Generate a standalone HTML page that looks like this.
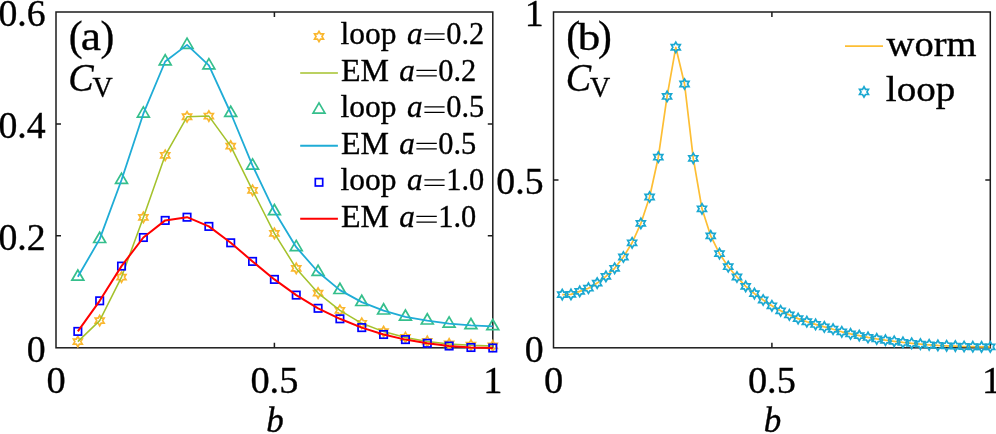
<!DOCTYPE html>
<html><head><meta charset="utf-8"><title>Chart</title>
<style>
html,body{margin:0;padding:0;background:#fff;}
body{width:996px;height:434px;overflow:hidden;font-family:"Liberation Serif",serif;}
svg{display:block;}
</style></head><body>
<svg width="996" height="434" viewBox="0 0 996 434">
<rect width="996" height="434" fill="#fff"/>
<rect x="56.0" y="12.0" width="436.80" height="335.80" fill="none" stroke="#1c1c1c" stroke-width="1.5"/>
<path d="M274.40,347.8 v-5.0 M274.40,12.0 v5.0" stroke="#1c1c1c" stroke-width="1.5"/>
<path d="M56.0,235.87 h5.0 M492.8,235.87 h-5.0" stroke="#1c1c1c" stroke-width="1.5"/>
<path d="M56.0,123.93 h5.0 M492.8,123.93 h-5.0" stroke="#1c1c1c" stroke-width="1.5"/>
<path d="M77.84,336.45 L79.33,339.03 L82.30,339.03 L80.81,341.60 L82.30,344.18 L79.33,344.18 L77.84,346.75 L76.35,344.18 L73.38,344.18 L74.87,341.60 L73.38,339.03 L76.35,339.03Z" fill="none" stroke="#FAB72E" stroke-width="1.7" stroke-linejoin="miter"/>
<path d="M99.68,315.45 L101.17,318.03 L104.14,318.03 L102.65,320.60 L104.14,323.18 L101.17,323.18 L99.68,325.75 L98.19,323.18 L95.22,323.18 L96.71,320.60 L95.22,318.03 L98.19,318.03Z" fill="none" stroke="#FAB72E" stroke-width="1.7" stroke-linejoin="miter"/>
<path d="M121.52,271.95 L123.01,274.53 L125.98,274.53 L124.49,277.10 L125.98,279.68 L123.01,279.68 L121.52,282.25 L120.03,279.68 L117.06,279.68 L118.55,277.10 L117.06,274.53 L120.03,274.53Z" fill="none" stroke="#FAB72E" stroke-width="1.7" stroke-linejoin="miter"/>
<path d="M143.36,212.25 L144.85,214.83 L147.82,214.83 L146.33,217.40 L147.82,219.97 L144.85,219.97 L143.36,222.55 L141.87,219.97 L138.90,219.97 L140.39,217.40 L138.90,214.83 L141.87,214.83Z" fill="none" stroke="#FAB72E" stroke-width="1.7" stroke-linejoin="miter"/>
<path d="M165.20,150.15 L166.69,152.73 L169.66,152.73 L168.17,155.30 L169.66,157.88 L166.69,157.88 L165.20,160.45 L163.71,157.88 L160.74,157.88 L162.23,155.30 L160.74,152.73 L163.71,152.73Z" fill="none" stroke="#FAB72E" stroke-width="1.7" stroke-linejoin="miter"/>
<path d="M187.04,111.65 L188.53,114.22 L191.50,114.22 L190.01,116.80 L191.50,119.38 L188.53,119.38 L187.04,121.95 L185.55,119.38 L182.58,119.38 L184.07,116.80 L182.58,114.22 L185.55,114.22Z" fill="none" stroke="#FAB72E" stroke-width="1.7" stroke-linejoin="miter"/>
<path d="M208.88,110.95 L210.37,113.52 L213.34,113.52 L211.85,116.10 L213.34,118.67 L210.37,118.67 L208.88,121.25 L207.39,118.67 L204.42,118.67 L205.91,116.10 L204.42,113.52 L207.39,113.52Z" fill="none" stroke="#FAB72E" stroke-width="1.7" stroke-linejoin="miter"/>
<path d="M230.72,140.95 L232.21,143.53 L235.18,143.53 L233.69,146.10 L235.18,148.67 L232.21,148.67 L230.72,151.25 L229.23,148.67 L226.26,148.67 L227.75,146.10 L226.26,143.53 L229.23,143.53Z" fill="none" stroke="#FAB72E" stroke-width="1.7" stroke-linejoin="miter"/>
<path d="M252.56,185.15 L254.05,187.73 L257.02,187.73 L255.53,190.30 L257.02,192.88 L254.05,192.88 L252.56,195.45 L251.07,192.88 L248.10,192.88 L249.59,190.30 L248.10,187.73 L251.07,187.73Z" fill="none" stroke="#FAB72E" stroke-width="1.7" stroke-linejoin="miter"/>
<path d="M274.40,228.25 L275.89,230.83 L278.86,230.83 L277.37,233.40 L278.86,235.97 L275.89,235.97 L274.40,238.55 L272.91,235.97 L269.94,235.97 L271.43,233.40 L269.94,230.83 L272.91,230.83Z" fill="none" stroke="#FAB72E" stroke-width="1.7" stroke-linejoin="miter"/>
<path d="M296.24,263.25 L297.73,265.82 L300.70,265.82 L299.21,268.40 L300.70,270.97 L297.73,270.97 L296.24,273.55 L294.75,270.97 L291.78,270.97 L293.27,268.40 L291.78,265.82 L294.75,265.82Z" fill="none" stroke="#FAB72E" stroke-width="1.7" stroke-linejoin="miter"/>
<path d="M318.08,287.95 L319.57,290.53 L322.54,290.53 L321.05,293.10 L322.54,295.68 L319.57,295.68 L318.08,298.25 L316.59,295.68 L313.62,295.68 L315.11,293.10 L313.62,290.53 L316.59,290.53Z" fill="none" stroke="#FAB72E" stroke-width="1.7" stroke-linejoin="miter"/>
<path d="M339.92,305.15 L341.41,307.73 L344.38,307.73 L342.89,310.30 L344.38,312.88 L341.41,312.88 L339.92,315.45 L338.43,312.88 L335.46,312.88 L336.95,310.30 L335.46,307.73 L338.43,307.73Z" fill="none" stroke="#FAB72E" stroke-width="1.7" stroke-linejoin="miter"/>
<path d="M361.76,318.15 L363.25,320.73 L366.22,320.73 L364.73,323.30 L366.22,325.88 L363.25,325.88 L361.76,328.45 L360.27,325.88 L357.30,325.88 L358.79,323.30 L357.30,320.73 L360.27,320.73Z" fill="none" stroke="#FAB72E" stroke-width="1.7" stroke-linejoin="miter"/>
<path d="M383.60,326.45 L385.09,329.03 L388.06,329.03 L386.57,331.60 L388.06,334.18 L385.09,334.18 L383.60,336.75 L382.11,334.18 L379.14,334.18 L380.63,331.60 L379.14,329.03 L382.11,329.03Z" fill="none" stroke="#FAB72E" stroke-width="1.7" stroke-linejoin="miter"/>
<path d="M405.44,332.35 L406.93,334.93 L409.90,334.93 L408.41,337.50 L409.90,340.07 L406.93,340.07 L405.44,342.65 L403.95,340.07 L400.98,340.07 L402.47,337.50 L400.98,334.93 L403.95,334.93Z" fill="none" stroke="#FAB72E" stroke-width="1.7" stroke-linejoin="miter"/>
<path d="M427.28,336.25 L428.77,338.82 L431.74,338.82 L430.25,341.40 L431.74,343.97 L428.77,343.97 L427.28,346.55 L425.79,343.97 L422.82,343.97 L424.31,341.40 L422.82,338.82 L425.79,338.82Z" fill="none" stroke="#FAB72E" stroke-width="1.7" stroke-linejoin="miter"/>
<path d="M449.12,338.75 L450.61,341.32 L453.58,341.32 L452.09,343.90 L453.58,346.47 L450.61,346.47 L449.12,349.05 L447.63,346.47 L444.66,346.47 L446.15,343.90 L444.66,341.32 L447.63,341.32Z" fill="none" stroke="#FAB72E" stroke-width="1.7" stroke-linejoin="miter"/>
<path d="M470.96,340.05 L472.45,342.62 L475.42,342.62 L473.93,345.20 L475.42,347.77 L472.45,347.77 L470.96,350.35 L469.47,347.77 L466.50,347.77 L467.99,345.20 L466.50,342.62 L469.47,342.62Z" fill="none" stroke="#FAB72E" stroke-width="1.7" stroke-linejoin="miter"/>
<path d="M492.80,340.75 L494.29,343.32 L497.26,343.32 L495.77,345.90 L497.26,348.47 L494.29,348.47 L492.80,351.05 L491.31,348.47 L488.34,348.47 L489.83,345.90 L488.34,343.32 L491.31,343.32Z" fill="none" stroke="#FAB72E" stroke-width="1.7" stroke-linejoin="miter"/>
<polyline points="77.84,341.60 99.68,320.60 121.52,277.10 143.36,217.40 165.20,155.30 187.04,116.80 208.88,116.10 230.72,146.10 252.56,190.30 274.40,233.40 296.24,268.40 318.08,293.10 339.92,310.30 361.76,323.30 383.60,331.60 405.44,337.50 427.28,341.40 449.12,343.90 470.96,345.20 492.80,345.90" fill="none" stroke="#A4C22C" stroke-width="1.55" stroke-linejoin="round"/>
<path d="M77.84,270.00 L71.89,280.20 L83.79,280.20Z" fill="none" stroke="#35BF8C" stroke-width="1.7" stroke-linejoin="miter"/>
<path d="M99.68,232.30 L93.73,242.50 L105.63,242.50Z" fill="none" stroke="#35BF8C" stroke-width="1.7" stroke-linejoin="miter"/>
<path d="M121.52,173.20 L115.57,183.40 L127.47,183.40Z" fill="none" stroke="#35BF8C" stroke-width="1.7" stroke-linejoin="miter"/>
<path d="M143.36,106.90 L137.41,117.10 L149.31,117.10Z" fill="none" stroke="#35BF8C" stroke-width="1.7" stroke-linejoin="miter"/>
<path d="M165.20,54.70 L159.25,64.90 L171.15,64.90Z" fill="none" stroke="#35BF8C" stroke-width="1.7" stroke-linejoin="miter"/>
<path d="M187.04,38.10 L181.09,48.30 L192.99,48.30Z" fill="none" stroke="#35BF8C" stroke-width="1.7" stroke-linejoin="miter"/>
<path d="M208.88,58.60 L202.93,68.80 L214.83,68.80Z" fill="none" stroke="#35BF8C" stroke-width="1.7" stroke-linejoin="miter"/>
<path d="M230.72,106.20 L224.77,116.40 L236.67,116.40Z" fill="none" stroke="#35BF8C" stroke-width="1.7" stroke-linejoin="miter"/>
<path d="M252.56,158.90 L246.61,169.10 L258.51,169.10Z" fill="none" stroke="#35BF8C" stroke-width="1.7" stroke-linejoin="miter"/>
<path d="M274.40,204.50 L268.45,214.70 L280.35,214.70Z" fill="none" stroke="#35BF8C" stroke-width="1.7" stroke-linejoin="miter"/>
<path d="M296.24,240.40 L290.29,250.60 L302.19,250.60Z" fill="none" stroke="#35BF8C" stroke-width="1.7" stroke-linejoin="miter"/>
<path d="M318.08,265.20 L312.13,275.40 L324.03,275.40Z" fill="none" stroke="#35BF8C" stroke-width="1.7" stroke-linejoin="miter"/>
<path d="M339.92,283.30 L333.97,293.50 L345.87,293.50Z" fill="none" stroke="#35BF8C" stroke-width="1.7" stroke-linejoin="miter"/>
<path d="M361.76,295.30 L355.81,305.50 L367.71,305.50Z" fill="none" stroke="#35BF8C" stroke-width="1.7" stroke-linejoin="miter"/>
<path d="M383.60,303.80 L377.65,314.00 L389.55,314.00Z" fill="none" stroke="#35BF8C" stroke-width="1.7" stroke-linejoin="miter"/>
<path d="M405.44,310.00 L399.49,320.20 L411.39,320.20Z" fill="none" stroke="#35BF8C" stroke-width="1.7" stroke-linejoin="miter"/>
<path d="M427.28,313.80 L421.33,324.00 L433.23,324.00Z" fill="none" stroke="#35BF8C" stroke-width="1.7" stroke-linejoin="miter"/>
<path d="M449.12,316.90 L443.17,327.10 L455.07,327.10Z" fill="none" stroke="#35BF8C" stroke-width="1.7" stroke-linejoin="miter"/>
<path d="M470.96,318.50 L465.01,328.70 L476.91,328.70Z" fill="none" stroke="#35BF8C" stroke-width="1.7" stroke-linejoin="miter"/>
<path d="M492.80,319.50 L486.85,329.70 L498.75,329.70Z" fill="none" stroke="#35BF8C" stroke-width="1.7" stroke-linejoin="miter"/>
<polyline points="77.84,276.80 99.68,239.10 121.52,180.00 143.36,113.70 165.20,61.50 187.04,44.90 208.88,65.40 230.72,113.00 252.56,165.70 274.40,211.30 296.24,247.20 318.08,272.00 339.92,290.10 361.76,302.10 383.60,310.60 405.44,316.80 427.28,320.60 449.12,323.70 470.96,325.30 492.80,326.30" fill="none" stroke="#1FACD6" stroke-width="1.8" stroke-linejoin="round"/>
<rect x="74.14" y="327.70" width="7.4" height="7.4" fill="none" stroke="#0000FF" stroke-width="1.7"/>
<rect x="95.98" y="297.10" width="7.4" height="7.4" fill="none" stroke="#0000FF" stroke-width="1.7"/>
<rect x="117.82" y="262.40" width="7.4" height="7.4" fill="none" stroke="#0000FF" stroke-width="1.7"/>
<rect x="139.66" y="233.80" width="7.4" height="7.4" fill="none" stroke="#0000FF" stroke-width="1.7"/>
<rect x="161.50" y="216.70" width="7.4" height="7.4" fill="none" stroke="#0000FF" stroke-width="1.7"/>
<rect x="183.34" y="213.50" width="7.4" height="7.4" fill="none" stroke="#0000FF" stroke-width="1.7"/>
<rect x="205.18" y="222.70" width="7.4" height="7.4" fill="none" stroke="#0000FF" stroke-width="1.7"/>
<rect x="227.02" y="239.10" width="7.4" height="7.4" fill="none" stroke="#0000FF" stroke-width="1.7"/>
<rect x="248.86" y="257.70" width="7.4" height="7.4" fill="none" stroke="#0000FF" stroke-width="1.7"/>
<rect x="270.70" y="275.70" width="7.4" height="7.4" fill="none" stroke="#0000FF" stroke-width="1.7"/>
<rect x="292.54" y="291.40" width="7.4" height="7.4" fill="none" stroke="#0000FF" stroke-width="1.7"/>
<rect x="314.38" y="304.60" width="7.4" height="7.4" fill="none" stroke="#0000FF" stroke-width="1.7"/>
<rect x="336.22" y="315.10" width="7.4" height="7.4" fill="none" stroke="#0000FF" stroke-width="1.7"/>
<rect x="358.06" y="323.90" width="7.4" height="7.4" fill="none" stroke="#0000FF" stroke-width="1.7"/>
<rect x="379.90" y="330.80" width="7.4" height="7.4" fill="none" stroke="#0000FF" stroke-width="1.7"/>
<rect x="401.74" y="335.90" width="7.4" height="7.4" fill="none" stroke="#0000FF" stroke-width="1.7"/>
<rect x="423.58" y="339.60" width="7.4" height="7.4" fill="none" stroke="#0000FF" stroke-width="1.7"/>
<rect x="445.42" y="342.30" width="7.4" height="7.4" fill="none" stroke="#0000FF" stroke-width="1.7"/>
<rect x="467.26" y="343.80" width="7.4" height="7.4" fill="none" stroke="#0000FF" stroke-width="1.7"/>
<rect x="489.10" y="344.30" width="7.4" height="7.4" fill="none" stroke="#0000FF" stroke-width="1.7"/>
<polyline points="77.84,331.40 99.68,300.80 121.52,266.10 143.36,237.50 165.20,220.40 187.04,217.20 208.88,226.40 230.72,242.80 252.56,261.40 274.40,279.40 296.24,295.10 318.08,308.30 339.92,318.80 361.76,327.60 383.60,334.50 405.44,339.60 427.28,343.30 449.12,346.00 470.96,347.50 492.80,348.00" fill="none" stroke="#FF0000" stroke-width="2.0" stroke-linejoin="round"/>
<g font-family="'Liberation Serif', serif" fill="#000" stroke="#000" stroke-width="0.35" style="filter:grayscale(1)">
<text x="45.70" y="362.00" font-size="37.8" text-anchor="end">0</text>
<text x="45.70" y="250.07" font-size="37.8" text-anchor="end">0.2</text>
<text x="45.70" y="138.13" font-size="37.8" text-anchor="end">0.4</text>
<text x="45.70" y="26.20" font-size="37.8" text-anchor="end">0.6</text>
<text x="56.00" y="392.50" font-size="38.4" text-anchor="middle">0</text>
<text x="274.40" y="392.50" font-size="38.4" text-anchor="middle">0.5</text>
<text x="492.80" y="392.50" font-size="38.4" text-anchor="middle">1</text>
<text x="275.00" y="432.00" font-size="35" text-anchor="middle" font-style="italic">b</text>
<text x="68.70" y="50.30" font-size="41.5" text-anchor="start">(</text>
<text x="80.70" y="49.60" font-size="40" text-anchor="start" textLength="20.3" lengthAdjust="spacingAndGlyphs">a</text>
<text x="100.60" y="50.30" font-size="41.5" text-anchor="start">)</text>
<text x="68.30" y="91.40" font-size="40" text-anchor="start" font-style="italic" textLength="25.4" lengthAdjust="spacingAndGlyphs">C</text>
<text x="92.40" y="96.90" font-size="29" text-anchor="start" textLength="20.2" lengthAdjust="spacingAndGlyphs">V</text>
<text x="340.60" y="44.00" font-size="31.5" text-anchor="start" textLength="56" lengthAdjust="spacingAndGlyphs">loop</text>
<text x="407.00" y="44.00" font-size="31.5" text-anchor="start" font-style="italic" textLength="15.6" lengthAdjust="spacingAndGlyphs">a</text>
<path d="M424.40,33.80 H444.60 M424.40,39.40 H444.60" stroke="#000" stroke-width="1.25" fill="none"/>
<text x="446.20" y="44.00" font-size="31" text-anchor="start" textLength="38" lengthAdjust="spacingAndGlyphs">0.2</text>
<text x="340.90" y="80.52" font-size="31" text-anchor="start" textLength="48" lengthAdjust="spacingAndGlyphs">EM</text>
<text x="399.20" y="80.52" font-size="31.5" text-anchor="start" font-style="italic" textLength="15.6" lengthAdjust="spacingAndGlyphs">a</text>
<path d="M416.40,70.32 H436.80 M416.40,75.92 H436.80" stroke="#000" stroke-width="1.25" fill="none"/>
<text x="438.20" y="80.52" font-size="31" text-anchor="start" textLength="38" lengthAdjust="spacingAndGlyphs">0.2</text>
<text x="340.60" y="117.04" font-size="31.5" text-anchor="start" textLength="56" lengthAdjust="spacingAndGlyphs">loop</text>
<text x="407.00" y="117.04" font-size="31.5" text-anchor="start" font-style="italic" textLength="15.6" lengthAdjust="spacingAndGlyphs">a</text>
<path d="M424.40,106.84 H444.60 M424.40,112.44 H444.60" stroke="#000" stroke-width="1.25" fill="none"/>
<text x="446.20" y="117.04" font-size="31" text-anchor="start" textLength="38" lengthAdjust="spacingAndGlyphs">0.5</text>
<text x="340.90" y="153.56" font-size="31" text-anchor="start" textLength="48" lengthAdjust="spacingAndGlyphs">EM</text>
<text x="399.20" y="153.56" font-size="31.5" text-anchor="start" font-style="italic" textLength="15.6" lengthAdjust="spacingAndGlyphs">a</text>
<path d="M416.40,143.36 H436.80 M416.40,148.96 H436.80" stroke="#000" stroke-width="1.25" fill="none"/>
<text x="438.20" y="153.56" font-size="31" text-anchor="start" textLength="38" lengthAdjust="spacingAndGlyphs">0.5</text>
<text x="340.60" y="190.08" font-size="31.5" text-anchor="start" textLength="56" lengthAdjust="spacingAndGlyphs">loop</text>
<text x="407.00" y="190.08" font-size="31.5" text-anchor="start" font-style="italic" textLength="15.6" lengthAdjust="spacingAndGlyphs">a</text>
<path d="M424.40,179.88 H444.60 M424.40,185.48 H444.60" stroke="#000" stroke-width="1.25" fill="none"/>
<text x="446.20" y="190.08" font-size="31" text-anchor="start" textLength="38" lengthAdjust="spacingAndGlyphs">1.0</text>
<text x="340.90" y="226.60" font-size="31" text-anchor="start" textLength="48" lengthAdjust="spacingAndGlyphs">EM</text>
<text x="399.20" y="226.60" font-size="31.5" text-anchor="start" font-style="italic" textLength="15.6" lengthAdjust="spacingAndGlyphs">a</text>
<path d="M416.40,216.40 H436.80 M416.40,222.00 H436.80" stroke="#000" stroke-width="1.25" fill="none"/>
<text x="438.20" y="226.60" font-size="31" text-anchor="start" textLength="38" lengthAdjust="spacingAndGlyphs">1.0</text>
<text x="543.60" y="362.00" font-size="37.8" text-anchor="end">0</text>
<text x="543.60" y="194.10" font-size="37.8" text-anchor="end">0.5</text>
<text x="543.60" y="26.20" font-size="37.8" text-anchor="end">1</text>
<text x="553.50" y="392.50" font-size="38.4" text-anchor="middle">0</text>
<text x="771.90" y="392.50" font-size="38.4" text-anchor="middle">0.5</text>
<text x="991.70" y="392.50" font-size="38.4" text-anchor="middle">1</text>
<text x="772.50" y="432.00" font-size="35" text-anchor="middle" font-style="italic">b</text>
<text x="566.20" y="50.30" font-size="41.5" text-anchor="start">(</text>
<text x="577.70" y="50.30" font-size="37.7" text-anchor="start" textLength="22.5" lengthAdjust="spacingAndGlyphs">b</text>
<text x="598.10" y="50.30" font-size="41.5" text-anchor="start">)</text>
<text x="565.80" y="91.40" font-size="40" text-anchor="start" font-style="italic" textLength="25.4" lengthAdjust="spacingAndGlyphs">C</text>
<text x="589.90" y="96.90" font-size="29" text-anchor="start" textLength="20.2" lengthAdjust="spacingAndGlyphs">V</text>
<text x="886.60" y="55.70" font-size="35.5" text-anchor="start" textLength="90" lengthAdjust="spacingAndGlyphs">worm</text>
<text x="885.80" y="100.90" font-size="36.5" text-anchor="start" textLength="69.6" lengthAdjust="spacingAndGlyphs">loop</text>
</g>
<path d="M319.00,31.35 L320.49,33.92 L323.46,33.92 L321.97,36.50 L323.46,39.08 L320.49,39.08 L319.00,41.65 L317.51,39.08 L314.54,39.08 L316.03,36.50 L314.54,33.92 L317.51,33.92Z" fill="none" stroke="#FAB72E" stroke-width="1.7" stroke-linejoin="miter"/>
<path d="M300.2,73.02 H337.9" stroke="#A4C22C" stroke-width="1.55"/>
<path d="M319.00,102.84 L313.05,113.04 L324.95,113.04Z" fill="none" stroke="#35BF8C" stroke-width="1.7" stroke-linejoin="miter"/>
<path d="M300.2,145.76 H337.9" stroke="#1FACD6" stroke-width="1.8"/>
<rect x="315.30" y="178.58" width="7.4" height="7.4" fill="none" stroke="#0000FF" stroke-width="1.7"/>
<path d="M300.2,218.80 H337.9" stroke="#FF0000" stroke-width="2.0"/>
<rect x="553.5" y="12.0" width="436.80" height="335.80" fill="none" stroke="#1c1c1c" stroke-width="1.5"/>
<path d="M771.90,347.8 v-5.0 M771.90,12.0 v5.0" stroke="#1c1c1c" stroke-width="1.5"/>
<path d="M553.5,179.90 h5.0 M990.3,179.90 h-5.0" stroke="#1c1c1c" stroke-width="1.5"/>
<polyline points="562.24,294.60 570.97,294.40 579.71,291.40 588.44,288.20 597.18,283.10 605.92,276.40 614.65,268.30 623.39,257.00 632.12,242.80 640.86,223.40 649.60,197.00 658.33,157.20 667.07,96.40 675.80,47.30 684.54,84.00 693.28,158.30 702.01,208.80 710.75,235.90 719.48,253.60 728.22,266.70 736.96,277.00 745.69,286.40 754.43,293.60 763.16,300.00 771.90,305.80 780.64,310.80 789.37,314.90 798.11,318.60 806.84,321.70 815.58,324.40 824.32,326.90 833.05,329.20 841.79,331.80 850.52,333.90 859.26,335.60 868.00,337.40 876.73,338.90 885.47,340.20 894.20,341.30 902.94,342.40 911.68,343.30 920.41,344.10 929.15,344.80 937.88,345.40 946.62,345.80 955.36,346.10 964.09,346.50 972.83,346.70 981.56,346.90 990.30,346.90" fill="none" stroke="#FDBE34" stroke-width="1.7" stroke-linejoin="round"/>
<path d="M562.24,289.45 L563.72,292.03 L566.70,292.03 L565.21,294.60 L566.70,297.18 L563.72,297.18 L562.24,299.75 L560.75,297.18 L557.78,297.18 L559.26,294.60 L557.78,292.03 L560.75,292.03Z" fill="none" stroke="#1AA8D1" stroke-width="1.7" stroke-linejoin="miter"/>
<path d="M570.97,289.25 L572.46,291.82 L575.43,291.82 L573.95,294.40 L575.43,296.97 L572.46,296.97 L570.97,299.55 L569.49,296.97 L566.51,296.97 L568.00,294.40 L566.51,291.82 L569.49,291.82Z" fill="none" stroke="#1AA8D1" stroke-width="1.7" stroke-linejoin="miter"/>
<path d="M579.71,286.25 L581.19,288.82 L584.17,288.82 L582.68,291.40 L584.17,293.97 L581.19,293.97 L579.71,296.55 L578.22,293.97 L575.25,293.97 L576.73,291.40 L575.25,288.82 L578.22,288.82Z" fill="none" stroke="#1AA8D1" stroke-width="1.7" stroke-linejoin="miter"/>
<path d="M588.44,283.05 L589.93,285.62 L592.90,285.62 L591.42,288.20 L592.90,290.77 L589.93,290.77 L588.44,293.35 L586.96,290.77 L583.98,290.77 L585.47,288.20 L583.98,285.62 L586.96,285.62Z" fill="none" stroke="#1AA8D1" stroke-width="1.7" stroke-linejoin="miter"/>
<path d="M597.18,277.95 L598.67,280.53 L601.64,280.53 L600.15,283.10 L601.64,285.68 L598.67,285.68 L597.18,288.25 L595.69,285.68 L592.72,285.68 L594.21,283.10 L592.72,280.53 L595.69,280.53Z" fill="none" stroke="#1AA8D1" stroke-width="1.7" stroke-linejoin="miter"/>
<path d="M605.92,271.25 L607.40,273.82 L610.38,273.82 L608.89,276.40 L610.38,278.97 L607.40,278.97 L605.92,281.55 L604.43,278.97 L601.46,278.97 L602.94,276.40 L601.46,273.82 L604.43,273.82Z" fill="none" stroke="#1AA8D1" stroke-width="1.7" stroke-linejoin="miter"/>
<path d="M614.65,263.15 L616.14,265.73 L619.11,265.73 L617.63,268.30 L619.11,270.88 L616.14,270.88 L614.65,273.45 L613.17,270.88 L610.19,270.88 L611.68,268.30 L610.19,265.73 L613.17,265.73Z" fill="none" stroke="#1AA8D1" stroke-width="1.7" stroke-linejoin="miter"/>
<path d="M623.39,251.85 L624.87,254.43 L627.85,254.43 L626.36,257.00 L627.85,259.57 L624.87,259.57 L623.39,262.15 L621.90,259.57 L618.93,259.57 L620.41,257.00 L618.93,254.43 L621.90,254.43Z" fill="none" stroke="#1AA8D1" stroke-width="1.7" stroke-linejoin="miter"/>
<path d="M632.12,237.65 L633.61,240.23 L636.58,240.23 L635.10,242.80 L636.58,245.38 L633.61,245.38 L632.12,247.95 L630.64,245.38 L627.66,245.38 L629.15,242.80 L627.66,240.23 L630.64,240.23Z" fill="none" stroke="#1AA8D1" stroke-width="1.7" stroke-linejoin="miter"/>
<path d="M640.86,218.25 L642.35,220.83 L645.32,220.83 L643.83,223.40 L645.32,225.97 L642.35,225.97 L640.86,228.55 L639.37,225.97 L636.40,225.97 L637.89,223.40 L636.40,220.83 L639.37,220.83Z" fill="none" stroke="#1AA8D1" stroke-width="1.7" stroke-linejoin="miter"/>
<path d="M649.60,191.85 L651.08,194.43 L654.06,194.43 L652.57,197.00 L654.06,199.57 L651.08,199.57 L649.60,202.15 L648.11,199.57 L645.14,199.57 L646.62,197.00 L645.14,194.43 L648.11,194.43Z" fill="none" stroke="#1AA8D1" stroke-width="1.7" stroke-linejoin="miter"/>
<path d="M658.33,152.05 L659.82,154.62 L662.79,154.62 L661.31,157.20 L662.79,159.77 L659.82,159.77 L658.33,162.35 L656.85,159.77 L653.87,159.77 L655.36,157.20 L653.87,154.62 L656.85,154.62Z" fill="none" stroke="#1AA8D1" stroke-width="1.7" stroke-linejoin="miter"/>
<path d="M667.07,91.25 L668.55,93.83 L671.53,93.83 L670.04,96.40 L671.53,98.98 L668.55,98.98 L667.07,101.55 L665.58,98.98 L662.61,98.98 L664.09,96.40 L662.61,93.83 L665.58,93.83Z" fill="none" stroke="#1AA8D1" stroke-width="1.7" stroke-linejoin="miter"/>
<path d="M675.80,42.15 L677.29,44.72 L680.26,44.72 L678.78,47.30 L680.26,49.88 L677.29,49.88 L675.80,52.45 L674.32,49.88 L671.34,49.88 L672.83,47.30 L671.34,44.72 L674.32,44.72Z" fill="none" stroke="#1AA8D1" stroke-width="1.7" stroke-linejoin="miter"/>
<path d="M684.54,78.85 L686.03,81.42 L689.00,81.42 L687.51,84.00 L689.00,86.58 L686.03,86.58 L684.54,89.15 L683.05,86.58 L680.08,86.58 L681.57,84.00 L680.08,81.42 L683.05,81.42Z" fill="none" stroke="#1AA8D1" stroke-width="1.7" stroke-linejoin="miter"/>
<path d="M693.28,153.15 L694.76,155.73 L697.74,155.73 L696.25,158.30 L697.74,160.88 L694.76,160.88 L693.28,163.45 L691.79,160.88 L688.82,160.88 L690.30,158.30 L688.82,155.73 L691.79,155.73Z" fill="none" stroke="#1AA8D1" stroke-width="1.7" stroke-linejoin="miter"/>
<path d="M702.01,203.65 L703.50,206.23 L706.47,206.23 L704.99,208.80 L706.47,211.38 L703.50,211.38 L702.01,213.95 L700.53,211.38 L697.55,211.38 L699.04,208.80 L697.55,206.23 L700.53,206.23Z" fill="none" stroke="#1AA8D1" stroke-width="1.7" stroke-linejoin="miter"/>
<path d="M710.75,230.75 L712.23,233.33 L715.21,233.33 L713.72,235.90 L715.21,238.47 L712.23,238.47 L710.75,241.05 L709.26,238.47 L706.29,238.47 L707.77,235.90 L706.29,233.33 L709.26,233.33Z" fill="none" stroke="#1AA8D1" stroke-width="1.7" stroke-linejoin="miter"/>
<path d="M719.48,248.45 L720.97,251.03 L723.94,251.03 L722.46,253.60 L723.94,256.18 L720.97,256.18 L719.48,258.75 L718.00,256.18 L715.02,256.18 L716.51,253.60 L715.02,251.03 L718.00,251.03Z" fill="none" stroke="#1AA8D1" stroke-width="1.7" stroke-linejoin="miter"/>
<path d="M728.22,261.55 L729.71,264.12 L732.68,264.12 L731.19,266.70 L732.68,269.27 L729.71,269.27 L728.22,271.85 L726.73,269.27 L723.76,269.27 L725.25,266.70 L723.76,264.12 L726.73,264.12Z" fill="none" stroke="#1AA8D1" stroke-width="1.7" stroke-linejoin="miter"/>
<path d="M736.96,271.85 L738.44,274.43 L741.42,274.43 L739.93,277.00 L741.42,279.57 L738.44,279.57 L736.96,282.15 L735.47,279.57 L732.50,279.57 L733.98,277.00 L732.50,274.43 L735.47,274.43Z" fill="none" stroke="#1AA8D1" stroke-width="1.7" stroke-linejoin="miter"/>
<path d="M745.69,281.25 L747.18,283.82 L750.15,283.82 L748.67,286.40 L750.15,288.97 L747.18,288.97 L745.69,291.55 L744.21,288.97 L741.23,288.97 L742.72,286.40 L741.23,283.82 L744.21,283.82Z" fill="none" stroke="#1AA8D1" stroke-width="1.7" stroke-linejoin="miter"/>
<path d="M754.43,288.45 L755.91,291.03 L758.89,291.03 L757.40,293.60 L758.89,296.18 L755.91,296.18 L754.43,298.75 L752.94,296.18 L749.97,296.18 L751.45,293.60 L749.97,291.03 L752.94,291.03Z" fill="none" stroke="#1AA8D1" stroke-width="1.7" stroke-linejoin="miter"/>
<path d="M763.16,294.85 L764.65,297.43 L767.62,297.43 L766.14,300.00 L767.62,302.57 L764.65,302.57 L763.16,305.15 L761.68,302.57 L758.70,302.57 L760.19,300.00 L758.70,297.43 L761.68,297.43Z" fill="none" stroke="#1AA8D1" stroke-width="1.7" stroke-linejoin="miter"/>
<path d="M771.90,300.65 L773.39,303.23 L776.36,303.23 L774.87,305.80 L776.36,308.38 L773.39,308.38 L771.90,310.95 L770.41,308.38 L767.44,308.38 L768.93,305.80 L767.44,303.23 L770.41,303.23Z" fill="none" stroke="#1AA8D1" stroke-width="1.7" stroke-linejoin="miter"/>
<path d="M780.64,305.65 L782.12,308.23 L785.10,308.23 L783.61,310.80 L785.10,313.38 L782.12,313.38 L780.64,315.95 L779.15,313.38 L776.18,313.38 L777.66,310.80 L776.18,308.23 L779.15,308.23Z" fill="none" stroke="#1AA8D1" stroke-width="1.7" stroke-linejoin="miter"/>
<path d="M789.37,309.75 L790.86,312.33 L793.83,312.33 L792.35,314.90 L793.83,317.48 L790.86,317.48 L789.37,320.05 L787.89,317.48 L784.91,317.48 L786.40,314.90 L784.91,312.33 L787.89,312.33Z" fill="none" stroke="#1AA8D1" stroke-width="1.7" stroke-linejoin="miter"/>
<path d="M798.11,313.45 L799.59,316.03 L802.57,316.03 L801.08,318.60 L802.57,321.18 L799.59,321.18 L798.11,323.75 L796.62,321.18 L793.65,321.18 L795.13,318.60 L793.65,316.03 L796.62,316.03Z" fill="none" stroke="#1AA8D1" stroke-width="1.7" stroke-linejoin="miter"/>
<path d="M806.84,316.55 L808.33,319.13 L811.30,319.13 L809.82,321.70 L811.30,324.28 L808.33,324.28 L806.84,326.85 L805.36,324.28 L802.38,324.28 L803.87,321.70 L802.38,319.13 L805.36,319.13Z" fill="none" stroke="#1AA8D1" stroke-width="1.7" stroke-linejoin="miter"/>
<path d="M815.58,319.25 L817.07,321.83 L820.04,321.83 L818.55,324.40 L820.04,326.98 L817.07,326.98 L815.58,329.55 L814.09,326.98 L811.12,326.98 L812.61,324.40 L811.12,321.83 L814.09,321.83Z" fill="none" stroke="#1AA8D1" stroke-width="1.7" stroke-linejoin="miter"/>
<path d="M824.32,321.75 L825.80,324.33 L828.78,324.33 L827.29,326.90 L828.78,329.48 L825.80,329.48 L824.32,332.05 L822.83,329.48 L819.86,329.48 L821.34,326.90 L819.86,324.33 L822.83,324.33Z" fill="none" stroke="#1AA8D1" stroke-width="1.7" stroke-linejoin="miter"/>
<path d="M833.05,324.05 L834.54,326.63 L837.51,326.63 L836.03,329.20 L837.51,331.78 L834.54,331.78 L833.05,334.35 L831.57,331.78 L828.59,331.78 L830.08,329.20 L828.59,326.63 L831.57,326.63Z" fill="none" stroke="#1AA8D1" stroke-width="1.7" stroke-linejoin="miter"/>
<path d="M841.79,326.65 L843.27,329.23 L846.25,329.23 L844.76,331.80 L846.25,334.38 L843.27,334.38 L841.79,336.95 L840.30,334.38 L837.33,334.38 L838.81,331.80 L837.33,329.23 L840.30,329.23Z" fill="none" stroke="#1AA8D1" stroke-width="1.7" stroke-linejoin="miter"/>
<path d="M850.52,328.75 L852.01,331.33 L854.98,331.33 L853.50,333.90 L854.98,336.48 L852.01,336.48 L850.52,339.05 L849.04,336.48 L846.06,336.48 L847.55,333.90 L846.06,331.33 L849.04,331.33Z" fill="none" stroke="#1AA8D1" stroke-width="1.7" stroke-linejoin="miter"/>
<path d="M859.26,330.45 L860.75,333.03 L863.72,333.03 L862.23,335.60 L863.72,338.18 L860.75,338.18 L859.26,340.75 L857.77,338.18 L854.80,338.18 L856.29,335.60 L854.80,333.03 L857.77,333.03Z" fill="none" stroke="#1AA8D1" stroke-width="1.7" stroke-linejoin="miter"/>
<path d="M868.00,332.25 L869.48,334.83 L872.46,334.83 L870.97,337.40 L872.46,339.98 L869.48,339.98 L868.00,342.55 L866.51,339.98 L863.54,339.98 L865.02,337.40 L863.54,334.83 L866.51,334.83Z" fill="none" stroke="#1AA8D1" stroke-width="1.7" stroke-linejoin="miter"/>
<path d="M876.73,333.75 L878.22,336.33 L881.19,336.33 L879.71,338.90 L881.19,341.48 L878.22,341.48 L876.73,344.05 L875.25,341.48 L872.27,341.48 L873.76,338.90 L872.27,336.33 L875.25,336.33Z" fill="none" stroke="#1AA8D1" stroke-width="1.7" stroke-linejoin="miter"/>
<path d="M885.47,335.05 L886.95,337.63 L889.93,337.63 L888.44,340.20 L889.93,342.78 L886.95,342.78 L885.47,345.35 L883.98,342.78 L881.01,342.78 L882.49,340.20 L881.01,337.63 L883.98,337.63Z" fill="none" stroke="#1AA8D1" stroke-width="1.7" stroke-linejoin="miter"/>
<path d="M894.20,336.15 L895.69,338.73 L898.66,338.73 L897.18,341.30 L898.66,343.88 L895.69,343.88 L894.20,346.45 L892.72,343.88 L889.74,343.88 L891.23,341.30 L889.74,338.73 L892.72,338.73Z" fill="none" stroke="#1AA8D1" stroke-width="1.7" stroke-linejoin="miter"/>
<path d="M902.94,337.25 L904.43,339.83 L907.40,339.83 L905.91,342.40 L907.40,344.98 L904.43,344.98 L902.94,347.55 L901.45,344.98 L898.48,344.98 L899.97,342.40 L898.48,339.83 L901.45,339.83Z" fill="none" stroke="#1AA8D1" stroke-width="1.7" stroke-linejoin="miter"/>
<path d="M911.68,338.15 L913.16,340.73 L916.14,340.73 L914.65,343.30 L916.14,345.88 L913.16,345.88 L911.68,348.45 L910.19,345.88 L907.22,345.88 L908.70,343.30 L907.22,340.73 L910.19,340.73Z" fill="none" stroke="#1AA8D1" stroke-width="1.7" stroke-linejoin="miter"/>
<path d="M920.41,338.95 L921.90,341.53 L924.87,341.53 L923.39,344.10 L924.87,346.68 L921.90,346.68 L920.41,349.25 L918.93,346.68 L915.95,346.68 L917.44,344.10 L915.95,341.53 L918.93,341.53Z" fill="none" stroke="#1AA8D1" stroke-width="1.7" stroke-linejoin="miter"/>
<path d="M929.15,339.65 L930.63,342.23 L933.61,342.23 L932.12,344.80 L933.61,347.38 L930.63,347.38 L929.15,349.95 L927.66,347.38 L924.69,347.38 L926.17,344.80 L924.69,342.23 L927.66,342.23Z" fill="none" stroke="#1AA8D1" stroke-width="1.7" stroke-linejoin="miter"/>
<path d="M937.88,340.25 L939.37,342.83 L942.34,342.83 L940.86,345.40 L942.34,347.98 L939.37,347.98 L937.88,350.55 L936.40,347.98 L933.42,347.98 L934.91,345.40 L933.42,342.83 L936.40,342.83Z" fill="none" stroke="#1AA8D1" stroke-width="1.7" stroke-linejoin="miter"/>
<path d="M946.62,340.65 L948.11,343.23 L951.08,343.23 L949.59,345.80 L951.08,348.38 L948.11,348.38 L946.62,350.95 L945.13,348.38 L942.16,348.38 L943.65,345.80 L942.16,343.23 L945.13,343.23Z" fill="none" stroke="#1AA8D1" stroke-width="1.7" stroke-linejoin="miter"/>
<path d="M955.36,340.95 L956.84,343.53 L959.82,343.53 L958.33,346.10 L959.82,348.68 L956.84,348.68 L955.36,351.25 L953.87,348.68 L950.90,348.68 L952.38,346.10 L950.90,343.53 L953.87,343.53Z" fill="none" stroke="#1AA8D1" stroke-width="1.7" stroke-linejoin="miter"/>
<path d="M964.09,341.35 L965.58,343.93 L968.55,343.93 L967.07,346.50 L968.55,349.07 L965.58,349.07 L964.09,351.65 L962.61,349.07 L959.63,349.07 L961.12,346.50 L959.63,343.93 L962.61,343.93Z" fill="none" stroke="#1AA8D1" stroke-width="1.7" stroke-linejoin="miter"/>
<path d="M972.83,341.55 L974.31,344.13 L977.29,344.13 L975.80,346.70 L977.29,349.28 L974.31,349.28 L972.83,351.85 L971.34,349.28 L968.37,349.28 L969.85,346.70 L968.37,344.13 L971.34,344.13Z" fill="none" stroke="#1AA8D1" stroke-width="1.7" stroke-linejoin="miter"/>
<path d="M981.56,341.75 L983.05,344.32 L986.02,344.32 L984.54,346.90 L986.02,349.47 L983.05,349.47 L981.56,352.05 L980.08,349.47 L977.10,349.47 L978.59,346.90 L977.10,344.32 L980.08,344.32Z" fill="none" stroke="#1AA8D1" stroke-width="1.7" stroke-linejoin="miter"/>
<path d="M990.30,341.75 L991.79,344.32 L994.76,344.32 L993.27,346.90 L994.76,349.47 L991.79,349.47 L990.30,352.05 L988.81,349.47 L985.84,349.47 L987.33,346.90 L985.84,344.32 L988.81,344.32Z" fill="none" stroke="#1AA8D1" stroke-width="1.7" stroke-linejoin="miter"/>
<path d="M845,46.1 H883" stroke="#FDBE34" stroke-width="1.8"/>
<path d="M864.00,86.75 L865.49,89.33 L868.46,89.33 L866.97,91.90 L868.46,94.48 L865.49,94.48 L864.00,97.05 L862.51,94.48 L859.54,94.48 L861.03,91.90 L859.54,89.33 L862.51,89.33Z" fill="none" stroke="#1AA8D1" stroke-width="1.7" stroke-linejoin="miter"/>
</svg>
</body></html>
